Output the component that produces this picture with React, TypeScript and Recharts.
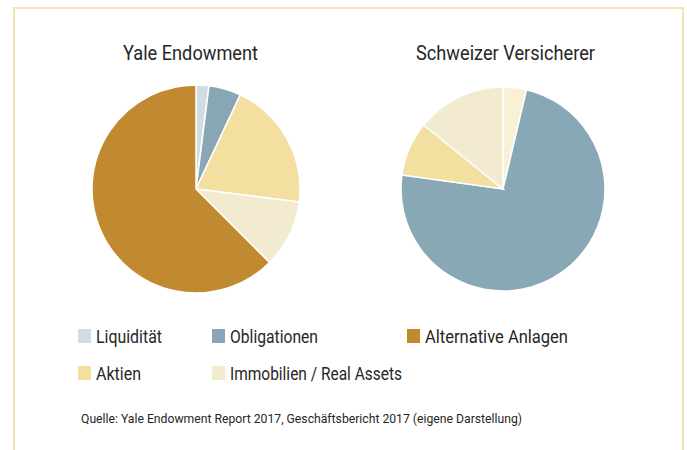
import React from "react";
import { PieChart, Pie, Cell } from "recharts";

const yaleNames = ["Liquidität", "Obligationen", "Aktien", "Immobilien / Real Assets", "Alternative Anlagen"];
const yaleValues = [2, 5, 20, 10.5, 62.5];
const yaleColors = ["#d2dde3", "#88a6b3", "#f3df9f", "#f2ebd0", "#c18a31"];

const swissNames = ["Liquidität", "Obligationen", "Aktien", "Immobilien / Real Assets"];
const swissValues = [3.7, 73.5, 8.6, 14.2];
const swissColors = ["#f8f1d6", "#89a8b5", "#f3df9f", "#f2ebd0"];

const legendNames = ["Liquidität", "Obligationen", "Alternative Anlagen", "Aktien", "Immobilien / Real Assets"];
const legendColors = ["#d2dde3", "#88a6b3", "#c18a31", "#f3df9f", "#f2ebd0"];

const titles = ["Yale Endowment", "Schweizer Versicherer"];
const source = "Quelle: Yale Endowment Report 2017, Geschäftsbericht 2017 (eigene Darstellung)";

const yaleData = yaleNames.map((n, i) => ({ name: n, value: yaleValues[i] }));
const swissData = swissNames.map((n, i) => ({ name: n, value: swissValues[i] }));

const FONT = "Roboto, 'DejaVu Sans Condensed', sans-serif";
const TEXT = "#262626";

const titleLayout = [
  { x: 123, y: 60, w: 135 },
  { x: 416, y: 60, w: 179 },
];

const legendLayout = [
  { x: 78, y: 343, w: 66 },
  { x: 212, y: 343, w: 88 },
  { x: 407, y: 343, w: 143 },
  { x: 78, y: 380, w: 45 },
  { x: 212, y: 380, w: 172 },
];

export default function App() {
  return (
    <div style={{ position: "absolute", left: 0, top: 0, width: 687, height: 450, background: "#fff", overflow: "hidden" }}>
      <div style={{ position: "absolute", left: 13, top: 7, width: 667, height: 460, borderTop: "2px solid #f4e3b2", borderLeft: "2px solid #f4e3b2", borderRight: "2px solid #f4e3b2" }} />
      <div style={{ position: "absolute", left: 0, top: 0 }}>
        <PieChart width={687} height={450} margin={{ top: 0, right: 0, bottom: 0, left: 0 }}>
          <Pie data={yaleData} dataKey="value" cx={196} cy={189} outerRadius={104} startAngle={90} endAngle={-270} stroke="#ffffff" strokeWidth={1.5} isAnimationActive={false}>
            {yaleData.map((d, i) => <Cell key={d.name} fill={yaleColors[i]} />)}
          </Pie>
          <Pie data={swissData} dataKey="value" cx={503} cy={189} outerRadius={102} startAngle={90} endAngle={-270} stroke="#ffffff" strokeWidth={1.5} isAnimationActive={false}>
            {swissData.map((d, i) => <Cell key={d.name} fill={swissColors[i]} />)}
          </Pie>
        </PieChart>
      </div>
      <svg width={687} height={450} style={{ position: "absolute", left: 0, top: 0 }} fontFamily={FONT}>
        {titles.map((t, i) => (
          <text key={t} x={titleLayout[i].x} y={titleLayout[i].y} fontSize={21} fill={TEXT} textLength={titleLayout[i].w} lengthAdjust="spacingAndGlyphs">{t}</text>
        ))}
        {legendNames.map((n, i) => (
          <g key={n}>
            <rect x={legendLayout[i].x} y={legendLayout[i].y - 14} width={13} height={14} fill={legendColors[i]} />
            <text x={legendLayout[i].x + 18} y={legendLayout[i].y} fontSize={19} fill={TEXT} textLength={legendLayout[i].w} lengthAdjust="spacingAndGlyphs">{n}</text>
          </g>
        ))}
        <text x={81} y={423} fontSize={13.5} fill={TEXT} textLength={441} lengthAdjust="spacingAndGlyphs">{source}</text>
      </svg>
    </div>
  );
}
